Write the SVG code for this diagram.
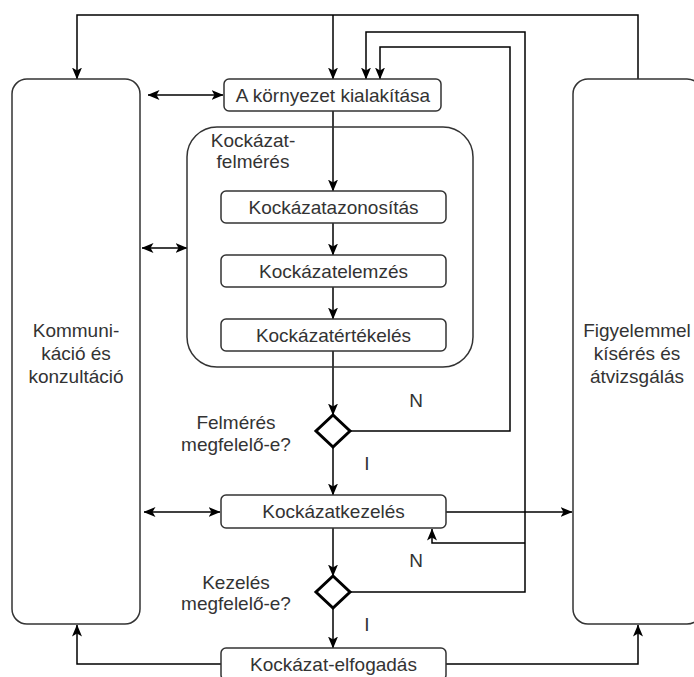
<svg xmlns="http://www.w3.org/2000/svg" width="694" height="677" viewBox="0 0 694 677">
  <defs>
    <marker id="arrow" viewBox="0 0 12 10" refX="11.5" refY="5" markerWidth="12" markerHeight="10" markerUnits="userSpaceOnUse" orient="auto-start-reverse">
      <path d="M0,0 L12,5 L0,10 L3,5 Z" fill="#000"/>
    </marker>
    <style>
      .box { fill: #fff; stroke: #333; stroke-width: 1.5; }
      .group { fill: none; stroke: #333; stroke-width: 1.5; }
      .decision { fill: #fff; stroke: #000; stroke-width: 3; }
      .edge { fill: none; stroke: #000; stroke-width: 1.5; }
      .arr { marker-end: url(#arrow); }
      .both { marker-start: url(#arrow); marker-end: url(#arrow); }
      text { font-family: "Liberation Sans", Arial, Helvetica, sans-serif; font-size: 19px; fill: #333; text-anchor: middle; }
    </style>
  </defs>

  <rect width="694" height="677" fill="#fff"/>

  <!-- connectors -->
  <g id="connectors">
    <path class="edge arr" d="M638,79 V15 H77 V79"/>
    <path class="edge arr" d="M333,15 V79"/>
    <path class="edge arr" d="M350,592 H525 V32 H366 V79"/>
    <path class="edge arr" d="M525,543 H432 V529"/>
    <path class="edge arr" d="M351,431 H510 V47 H380 V79"/>
    <path class="edge arr" d="M333,111 V191"/>
    <path class="edge arr" d="M333,223 V255"/>
    <path class="edge arr" d="M333,287 V319"/>
    <path class="edge arr" d="M333,351 V415"/>
    <path class="edge arr" d="M333,447 V495"/>
    <path class="edge arr" d="M333,528 V576"/>
    <path class="edge arr" d="M333,608 V648"/>
    <path class="edge both" d="M148,95 H223"/>
    <path class="edge both" d="M142,248 H187"/>
    <path class="edge both" d="M144,512 H220"/>
    <path class="edge arr" d="M446,512 H572"/>
    <path class="edge arr" d="M221,664 H77 V625"/>
    <path class="edge arr" d="M446,664 H638 V625"/>
  </g>

  <!-- side processes -->
  <g id="kommunikacio">
    <rect class="box" x="12" y="79" width="128" height="545" rx="15"/>
    <text x="76" y="337">Kommuni-</text>
    <text x="76" y="360">káció és</text>
    <text x="76" y="383">konzultáció</text>
  </g>
  <g id="figyelemmel">
    <rect class="box" x="573" y="79" width="129" height="545" rx="15"/>
    <text x="637" y="337">Figyelemmel</text>
    <text x="637" y="360">kísérés és</text>
    <text x="637" y="383">átvizsgálás</text>
  </g>

  <!-- main flow -->
  <g id="kornyezet">
    <rect class="box" x="224" y="79" width="217" height="32" rx="5"/>
    <text x="333" y="102">A környezet kialakítása</text>
  </g>

  <g id="felmeres">
    <rect class="group" x="187" y="127" width="286" height="240" rx="30"/>
    <text x="253" y="147">Kockázat-</text>
    <text x="253" y="168">felmérés</text>
  </g>

  <g id="azonositas">
    <rect class="box" x="221" y="191" width="225" height="32" rx="5"/>
    <text x="333.5" y="214">Kockázatazonosítás</text>
  </g>
  <g id="elemzes">
    <rect class="box" x="221" y="255" width="225" height="32" rx="5"/>
    <text x="333.5" y="278">Kockázatelemzés</text>
  </g>
  <g id="ertekeles">
    <rect class="box" x="221" y="319" width="225" height="32" rx="5"/>
    <text x="333.5" y="342">Kockázatértékelés</text>
  </g>

  <g id="dontes-felmeres">
    <path class="decision" d="M333,415 L350,431 L333,447 L316,431 Z"/>
    <text x="236" y="429">Felmérés</text>
    <text x="236" y="451">megfelelő-e?</text>
    <text x="416" y="407">N</text>
    <text x="367" y="470">I</text>
  </g>

  <g id="kezeles">
    <rect class="box" x="221" y="495" width="225" height="33" rx="5"/>
    <text x="333.5" y="518">Kockázatkezelés</text>
  </g>

  <g id="dontes-kezeles">
    <path class="decision" d="M333,576 L350,592 L333,608 L316,592 Z"/>
    <text x="236" y="589">Kezelés</text>
    <text x="236" y="610">megfelelő-e?</text>
    <text x="416" y="567">N</text>
    <text x="367" y="631">I</text>
  </g>

  <g id="elfogadas">
    <rect class="box" x="221" y="648" width="225" height="32" rx="5"/>
    <text x="333.5" y="671">Kockázat-elfogadás</text>
  </g>
</svg>
